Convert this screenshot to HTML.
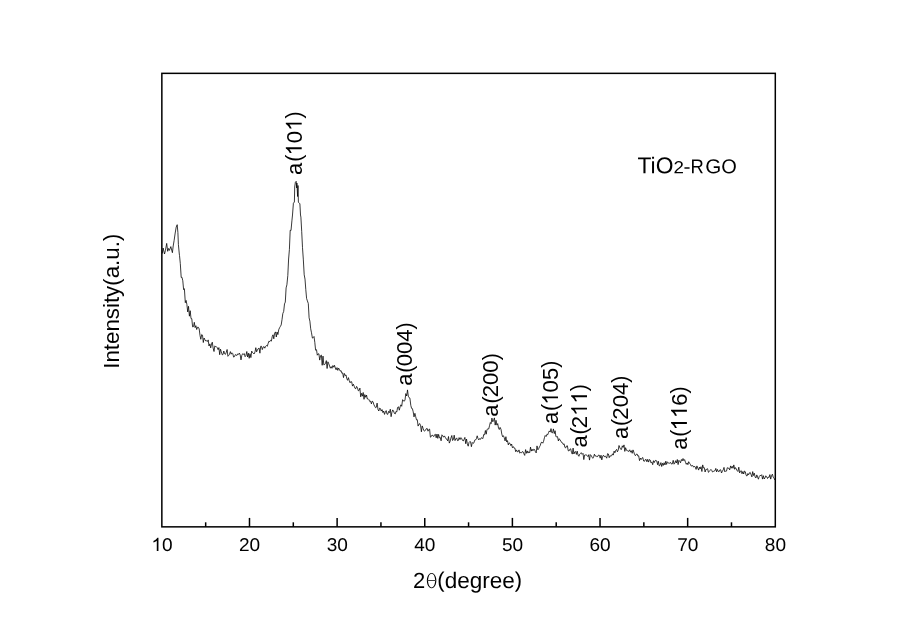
<!DOCTYPE html>
<html><head><meta charset="utf-8"><title>XRD</title>
<style>
html,body{margin:0;padding:0;background:#fff;}
body{width:900px;height:632px;overflow:hidden;font-family:"Liberation Sans",sans-serif;}
svg{display:block;will-change:transform}
text{font-family:"Liberation Sans",sans-serif;fill:#000}
</style></head><body>
<svg width="900" height="632" viewBox="0 0 900 632">
<rect width="900" height="632" fill="#fff"/>
<path d="M162.3 253.5 L163.1 248.0 L164.5 254.0 L165.4 250.6 L166.7 243.4 L167.7 251.3 L168.5 248.5 L169.4 250.4 L170.8 246.6 L172.4 252.7 L173.2 246.0 L174.1 240.6 L175.2 233.0 L176.2 227.1 L177.2 224.7 L177.9 232.5 L178.4 244.6 L179.3 254.0 L179.5 255.4 L180.3 263.5 L181.2 277.4 L182.0 277.3 L182.8 280.8 L183.6 289.6 L184.4 288.7 L185.3 302.7 L186.1 300.4 L186.9 304.5 L187.7 311.9 L188.5 306.3 L189.4 316.2 L190.2 310.7 L191.0 318.6 L191.8 318.7 L192.6 326.9 L193.5 326.6 L194.3 322.3 L195.1 327.6 L195.9 325.7 L196.7 329.5 L197.6 327.2 L198.4 327.3 L199.2 329.0 L200.0 335.4 L200.8 339.3 L201.7 334.5 L202.5 335.2 L203.3 342.5 L204.1 338.0 L204.9 339.7 L205.8 341.0 L206.6 340.8 L207.4 341.5 L208.2 339.9 L209.0 346.0 L209.9 343.9 L210.7 347.9 L211.5 344.0 L212.3 342.2 L213.1 348.0 L214.0 351.5 L214.8 345.9 L215.6 346.6 L216.4 346.7 L217.2 347.6 L218.1 349.7 L218.9 347.6 L219.7 354.7 L220.5 349.2 L221.3 351.7 L222.2 354.8 L223.0 354.5 L223.8 351.0 L224.6 353.7 L225.4 354.4 L226.3 352.3 L227.1 349.5 L227.9 356.3 L228.7 355.4 L229.5 354.3 L230.4 351.6 L231.2 354.2 L232.0 352.8 L232.8 353.7 L233.6 357.1 L234.5 356.6 L235.3 354.6 L236.1 355.0 L236.9 355.5 L237.7 353.9 L238.6 354.3 L239.4 353.1 L240.2 355.0 L241.0 359.9 L241.8 355.4 L242.7 353.7 L243.5 354.3 L244.3 353.6 L245.1 356.7 L245.9 355.7 L246.8 351.5 L247.6 357.0 L248.4 353.2 L249.2 358.3 L250.0 353.7 L250.9 357.6 L251.7 351.1 L252.5 352.5 L253.3 353.2 L254.1 354.0 L255.0 351.9 L255.8 347.7 L256.6 351.8 L257.4 350.0 L258.2 348.7 L259.1 348.0 L259.9 353.2 L260.7 346.3 L261.5 346.3 L262.3 349.6 L263.2 347.1 L264.0 346.5 L264.8 348.2 L265.6 346.3 L266.4 345.5 L267.3 346.3 L268.1 343.6 L268.9 341.2 L269.7 341.7 L270.5 340.3 L271.4 341.1 L272.2 336.6 L273.0 334.8 L273.8 338.8 L274.6 333.2 L275.5 331.9 L276.3 337.0 L277.1 332.0 L277.9 334.6 L278.7 329.8 L279.6 327.7 L280.4 326.4 L281.2 324.9 L282.0 319.7 L282.8 313.6 L283.7 311.4 L284.5 303.9 L285.3 302.1 L286.1 287.9 L286.9 284.8 L287.8 275.6 L288.6 259.0 L289.4 249.6 L290.2 230.3 L291.0 230.5 L291.9 220.9 L292.5 215.0 L293.4 203.2 L294.4 202.0 L294.7 187.0 L295.4 182.2 L296.2 181.3 L296.7 188.0 L296.9 183.0 L297.6 196.5 L298.0 185.5 L298.4 202.2 L299.9 203.8 L300.5 215.0 L300.9 217.1 L301.7 231.3 L302.5 247.7 L303.3 259.1 L304.2 274.8 L305.0 279.1 L305.8 289.7 L306.6 298.5 L307.4 300.9 L308.3 303.5 L309.1 317.8 L309.9 321.2 L310.7 328.8 L311.5 332.8 L312.4 338.1 L313.2 337.6 L314.0 336.5 L314.8 342.3 L315.6 350.2 L316.5 349.7 L317.3 355.2 L318.1 353.9 L318.9 353.8 L319.7 360.1 L320.6 355.6 L321.4 355.1 L322.2 365.3 L323.0 356.1 L323.8 364.8 L324.7 364.5 L325.5 363.3 L326.3 360.6 L327.1 368.5 L327.9 361.8 L328.8 363.8 L329.6 366.1 L330.4 368.2 L331.2 366.6 L332.0 368.3 L332.9 365.5 L333.7 367.2 L334.5 365.3 L335.3 368.0 L336.1 369.8 L337.0 367.6 L337.8 370.4 L338.6 368.1 L339.4 369.3 L340.2 371.1 L341.1 370.7 L341.9 373.3 L342.7 372.9 L343.5 377.6 L344.3 373.4 L345.2 375.6 L346.0 374.9 L346.8 378.7 L347.6 380.3 L348.4 377.6 L349.3 380.8 L350.1 382.8 L350.9 381.4 L351.7 381.9 L352.5 386.1 L353.4 384.2 L354.2 386.2 L355.0 388.4 L355.8 388.7 L356.6 386.4 L357.5 388.0 L358.3 390.8 L359.1 390.4 L359.9 388.1 L360.7 396.8 L361.6 393.3 L362.4 396.2 L363.2 392.5 L364.0 399.3 L364.8 394.6 L365.7 397.3 L366.5 395.0 L367.3 399.0 L368.1 398.8 L368.9 399.6 L369.8 401.6 L370.6 401.1 L371.4 403.9 L372.2 401.2 L373.0 401.7 L373.9 404.7 L374.7 406.2 L375.5 407.7 L376.3 407.3 L377.1 403.1 L378.0 409.5 L378.8 411.0 L379.6 408.2 L380.4 408.5 L381.2 411.1 L382.1 409.6 L382.9 412.6 L383.7 411.0 L384.5 414.4 L385.3 412.2 L386.2 410.6 L387.0 414.2 L387.8 414.3 L388.6 411.4 L389.4 412.7 L390.3 409.2 L391.1 416.7 L391.9 412.2 L392.7 409.9 L393.5 411.0 L394.4 413.4 L395.2 414.0 L396.0 411.4 L396.8 411.9 L397.6 407.4 L398.5 406.8 L399.3 410.2 L400.1 406.9 L400.9 404.8 L401.7 406.3 L402.6 399.7 L403.4 400.7 L404.2 401.3 L405.0 400.0 L405.8 393.6 L406.7 396.0 L407.5 389.9 L408.3 396.2 L409.1 397.7 L409.9 398.1 L410.8 405.4 L411.6 408.4 L412.4 408.6 L413.2 411.8 L414.0 416.9 L414.9 413.3 L415.7 416.7 L416.5 419.9 L417.3 419.7 L418.1 426.1 L419.0 424.1 L419.8 423.6 L420.6 425.8 L421.4 431.8 L422.2 425.9 L423.1 428.4 L423.9 430.7 L424.7 431.0 L425.5 430.3 L426.3 428.7 L427.2 428.5 L428.0 431.2 L428.8 429.5 L429.6 429.1 L430.4 437.2 L431.3 436.5 L432.1 435.0 L432.9 435.6 L433.7 436.6 L434.5 434.8 L435.4 434.3 L436.2 437.8 L437.0 434.0 L437.8 438.4 L438.6 434.4 L439.5 437.9 L440.3 437.4 L441.1 440.8 L441.9 434.8 L442.7 435.7 L443.6 437.2 L444.4 435.9 L445.2 437.2 L446.0 438.8 L446.8 439.2 L447.7 440.9 L448.5 436.5 L449.3 443.1 L450.1 441.4 L450.9 438.1 L451.8 435.5 L452.6 440.5 L453.4 439.5 L454.2 435.2 L455.0 440.6 L455.9 438.8 L456.7 437.9 L457.5 440.6 L458.3 440.5 L459.1 437.6 L460.0 439.6 L460.8 437.6 L461.6 438.3 L462.4 440.3 L463.2 441.0 L464.1 439.3 L464.9 437.4 L465.7 443.7 L466.5 439.0 L467.3 443.7 L468.2 446.2 L469.0 442.5 L469.8 441.5 L470.6 441.8 L471.4 446.7 L472.3 442.5 L473.1 443.3 L473.9 442.9 L474.7 440.2 L475.5 440.0 L476.4 438.7 L477.2 435.8 L478.0 438.5 L478.8 439.9 L479.6 438.6 L480.5 439.3 L481.3 437.7 L482.1 438.1 L482.9 438.6 L483.7 434.5 L484.6 434.8 L485.4 430.5 L486.2 434.2 L487.0 429.4 L487.8 429.0 L488.7 429.0 L489.5 425.8 L490.3 422.5 L491.1 423.7 L491.9 418.1 L492.8 421.8 L493.6 420.4 L494.4 417.9 L495.2 425.1 L496.0 420.3 L496.9 425.1 L497.7 423.6 L498.5 428.1 L499.3 429.5 L500.1 427.4 L501.0 429.3 L501.8 434.1 L502.6 436.7 L503.4 435.7 L504.2 437.6 L505.1 440.9 L505.9 436.7 L506.7 442.0 L507.5 440.6 L508.3 444.9 L509.2 442.9 L510.0 443.4 L510.8 445.6 L511.6 444.0 L512.4 447.7 L513.3 446.6 L514.1 448.1 L514.9 448.1 L515.7 451.7 L516.5 449.9 L517.4 451.8 L518.2 451.7 L519.0 449.9 L519.8 453.2 L520.6 452.4 L521.5 452.8 L522.3 451.6 L523.1 451.8 L523.9 453.8 L524.7 455.4 L525.6 449.6 L526.4 453.3 L527.2 450.9 L528.0 453.1 L528.8 451.7 L529.7 452.7 L530.5 447.1 L531.3 451.1 L532.1 449.2 L532.9 450.8 L533.8 449.2 L534.6 449.6 L535.4 451.7 L536.2 452.9 L537.0 445.9 L537.9 449.8 L538.7 448.6 L539.5 446.8 L540.3 445.4 L541.1 442.6 L542.0 442.1 L542.8 443.2 L543.6 441.3 L544.4 437.8 L545.2 435.5 L546.1 436.5 L546.9 434.3 L547.7 434.8 L548.5 432.6 L549.3 430.9 L550.2 432.1 L551.0 428.6 L551.8 432.7 L552.6 432.8 L553.4 428.9 L554.3 433.6 L555.1 430.7 L555.9 436.6 L556.7 436.8 L557.5 436.6 L558.4 441.0 L559.2 438.7 L560.0 439.9 L560.8 441.0 L561.6 442.5 L562.5 442.8 L563.3 444.5 L564.1 443.8 L564.9 447.4 L565.7 447.9 L566.6 445.9 L567.4 445.8 L568.2 450.7 L569.0 451.0 L569.8 449.3 L570.7 448.8 L571.5 452.5 L572.3 454.1 L573.1 448.1 L573.9 454.0 L574.8 451.8 L575.6 451.6 L576.4 454.4 L577.2 451.1 L578.0 455.0 L578.9 456.3 L579.7 454.2 L580.5 453.4 L581.3 452.7 L582.1 454.3 L583.0 453.4 L583.8 459.6 L584.6 455.1 L585.4 454.9 L586.2 454.9 L587.1 455.5 L587.9 456.6 L588.7 454.7 L589.5 460.1 L590.3 454.6 L591.2 455.5 L592.0 457.1 L592.8 458.3 L593.6 457.3 L594.4 454.2 L595.3 456.1 L596.1 455.8 L596.9 456.8 L597.7 456.5 L598.5 455.0 L599.4 455.3 L600.2 458.2 L601.0 455.2 L601.8 459.9 L602.6 456.4 L603.5 455.2 L604.3 456.8 L605.1 456.1 L605.9 456.7 L606.7 458.2 L607.6 453.6 L608.4 454.0 L609.2 457.7 L610.0 455.7 L610.8 456.1 L611.7 455.7 L612.5 453.8 L613.3 455.1 L614.1 451.1 L614.9 452.8 L615.8 450.2 L616.6 449.4 L617.4 451.8 L618.2 450.2 L619.0 445.5 L619.9 447.8 L620.7 449.3 L621.5 449.4 L622.3 445.8 L623.1 447.4 L624.0 444.9 L624.8 451.4 L625.6 447.7 L626.4 450.2 L627.2 450.3 L628.1 451.5 L628.9 451.1 L629.7 449.8 L630.5 452.2 L631.3 450.7 L632.2 453.3 L633.0 449.9 L633.8 452.0 L634.6 454.6 L635.4 455.7 L636.3 454.2 L637.1 454.0 L637.9 456.1 L638.7 455.8 L639.5 460.6 L640.4 458.1 L641.2 459.5 L642.0 458.1 L642.8 457.5 L643.6 461.0 L644.5 461.3 L645.3 459.6 L646.1 459.4 L646.9 461.8 L647.7 459.3 L648.6 462.1 L649.4 459.5 L650.2 460.0 L651.0 462.8 L651.8 461.9 L652.7 464.7 L653.5 460.7 L654.3 462.5 L655.1 460.7 L655.9 460.3 L656.8 461.0 L657.6 464.7 L658.4 461.3 L659.2 465.9 L660.0 465.4 L660.9 462.6 L661.7 466.5 L662.5 463.3 L663.3 465.4 L664.1 462.7 L665.0 465.0 L665.8 461.2 L666.6 464.4 L667.4 461.8 L668.2 462.6 L669.1 463.6 L669.9 462.6 L670.7 462.6 L671.5 464.1 L672.3 463.9 L673.2 460.3 L674.0 464.2 L674.8 463.2 L675.6 460.7 L676.4 463.0 L677.3 459.5 L678.1 464.6 L678.9 460.3 L679.7 461.2 L680.5 462.8 L681.4 459.5 L682.2 460.9 L683.0 458.5 L683.8 460.6 L684.6 459.6 L685.5 462.4 L686.3 464.3 L687.1 462.9 L687.9 464.7 L688.7 461.7 L689.6 463.3 L690.4 464.3 L691.2 466.1 L692.0 465.7 L692.8 465.6 L693.7 467.2 L694.5 466.2 L695.3 467.1 L696.1 469.4 L696.9 465.9 L697.8 468.1 L698.6 470.1 L699.4 467.2 L700.2 468.9 L701.0 466.7 L701.9 471.5 L702.7 464.9 L703.5 467.9 L704.3 467.7 L705.1 472.0 L706.0 469.2 L706.8 469.4 L707.6 468.7 L708.4 472.3 L709.2 471.6 L710.1 470.4 L710.9 469.4 L711.7 470.3 L712.5 472.0 L713.3 471.5 L714.2 471.0 L715.0 470.7 L715.8 468.4 L716.6 471.9 L717.4 469.4 L718.3 471.5 L719.1 471.7 L719.9 469.8 L720.7 469.8 L721.5 473.0 L722.4 471.1 L723.2 469.9 L724.0 467.4 L724.8 471.8 L725.6 471.0 L726.5 471.1 L727.3 467.7 L728.1 468.2 L728.9 468.2 L729.7 469.9 L730.6 465.9 L731.4 468.2 L732.2 466.3 L733.0 468.3 L733.8 464.9 L734.7 469.3 L735.5 467.6 L736.3 469.0 L737.1 470.6 L737.9 471.5 L738.8 467.2 L739.6 472.9 L740.4 471.3 L741.2 470.6 L742.0 473.8 L742.9 471.5 L743.7 474.0 L744.5 471.0 L745.3 471.7 L746.1 475.3 L747.0 476.1 L747.8 473.6 L748.6 474.8 L749.4 472.9 L750.2 472.4 L751.1 474.7 L751.9 476.9 L752.7 471.6 L753.5 475.5 L754.3 473.2 L755.2 477.3 L756.0 477.9 L756.8 474.9 L757.6 477.0 L758.4 479.2 L759.3 476.4 L760.1 475.3 L760.9 475.7 L761.7 474.7 L762.5 479.1 L763.4 475.7 L764.2 479.0 L765.0 477.9 L765.8 475.8 L766.6 476.6 L767.5 478.5 L768.3 477.0 L769.1 477.4 L769.9 474.6 L770.7 479.1 L771.6 475.4 L772.4 474.2 L773.2 477.2 L774.0 478.0 L774.8 480.0" fill="none" stroke="#000" stroke-width="0.78" stroke-linejoin="miter" stroke-miterlimit="3"/>
<rect x="161.85" y="73.35" width="613.4499999999999" height="453.5" fill="none" stroke="#000" stroke-width="1.5"/>
<g stroke="#000" stroke-width="1.5">
<line x1="205.67" y1="526.85" x2="205.67" y2="522.3"/><line x1="249.49" y1="526.85" x2="249.49" y2="517.9"/><line x1="293.30" y1="526.85" x2="293.30" y2="522.3"/><line x1="337.12" y1="526.85" x2="337.12" y2="517.9"/><line x1="380.94" y1="526.85" x2="380.94" y2="522.3"/><line x1="424.76" y1="526.85" x2="424.76" y2="517.9"/><line x1="468.57" y1="526.85" x2="468.57" y2="522.3"/><line x1="512.39" y1="526.85" x2="512.39" y2="517.9"/><line x1="556.21" y1="526.85" x2="556.21" y2="522.3"/><line x1="600.03" y1="526.85" x2="600.03" y2="517.9"/><line x1="643.85" y1="526.85" x2="643.85" y2="522.3"/><line x1="687.66" y1="526.85" x2="687.66" y2="517.9"/><line x1="731.48" y1="526.85" x2="731.48" y2="522.3"/>
</g>
<g transform="translate(151.36,551.00) rotate(0.03) scale(1.03,1)" font-size="18.5"><path transform="translate(0.00,0) scale(0.00903,-0.00903)" d="M763 0H583V1147Q518 1085 412.5 1023Q307 961 223 930V1104Q374 1175 487 1276Q600 1377 647 1472H763Z"/><text><tspan x="10.29" y="0">0</tspan></text></g><g transform="translate(238.99,551.00) rotate(0.03) scale(1.03,1)" font-size="18.5"><text><tspan x="0.00" y="0">20</tspan></text></g><g transform="translate(326.63,551.00) rotate(0.03) scale(1.03,1)" font-size="18.5"><text><tspan x="0.00" y="0">30</tspan></text></g><g transform="translate(414.26,551.00) rotate(0.03) scale(1.03,1)" font-size="18.5"><text><tspan x="0.00" y="0">40</tspan></text></g><g transform="translate(501.90,551.00) rotate(0.03) scale(1.03,1)" font-size="18.5"><text><tspan x="0.00" y="0">50</tspan></text></g><g transform="translate(589.53,551.00) rotate(0.03) scale(1.03,1)" font-size="18.5"><text><tspan x="0.00" y="0">60</tspan></text></g><g transform="translate(677.17,551.00) rotate(0.03) scale(1.03,1)" font-size="18.5"><text><tspan x="0.00" y="0">70</tspan></text></g><g transform="translate(764.81,551.00) rotate(0.03) scale(1.03,1)" font-size="18.5"><text><tspan x="0.00" y="0">80</tspan></text></g>
<g transform="translate(301.70,175.10) rotate(-90)" font-size="22.1"><path transform="translate(19.65,0) scale(0.01079,-0.01079)" d="M763 0H583V1147Q518 1085 412.5 1023Q307 961 223 930V1104Q374 1175 487 1276Q600 1377 647 1472H763Z"/><path transform="translate(44.22,0) scale(0.01079,-0.01079)" d="M763 0H583V1147Q518 1085 412.5 1023Q307 961 223 930V1104Q374 1175 487 1276Q600 1377 647 1472H763Z"/><text><tspan x="0.22" y="0.00" font-size="22.10">a</tspan><tspan x="13.39" y="-0.77" font-size="21.44">(</tspan><tspan x="31.93" y="0">0</tspan><tspan x="56.62" y="-0.77" font-size="21.44">)</tspan></text></g><g transform="translate(412.30,386.00) rotate(-90)" font-size="22.1"><text><tspan x="0.22" y="0.00" font-size="22.10">a</tspan><tspan x="13.39" y="-0.77" font-size="21.44">(</tspan><tspan x="19.65" y="0">004</tspan><tspan x="56.62" y="-0.77" font-size="21.44">)</tspan></text></g><g transform="translate(498.30,416.90) rotate(-90)" font-size="22.1"><text><tspan x="0.22" y="0.00" font-size="22.10">a</tspan><tspan x="13.39" y="-0.77" font-size="21.44">(</tspan><tspan x="19.65" y="0">200</tspan><tspan x="56.62" y="-0.77" font-size="21.44">)</tspan></text></g><g transform="translate(558.00,424.30) rotate(-90)" font-size="22.1"><path transform="translate(19.65,0) scale(0.01079,-0.01079)" d="M763 0H583V1147Q518 1085 412.5 1023Q307 961 223 930V1104Q374 1175 487 1276Q600 1377 647 1472H763Z"/><text><tspan x="0.22" y="0.00" font-size="22.10">a</tspan><tspan x="13.39" y="-0.77" font-size="21.44">(</tspan><tspan x="31.93" y="0">05</tspan><tspan x="56.62" y="-0.77" font-size="21.44">)</tspan></text></g><g transform="translate(587.00,447.80) rotate(-90)" font-size="22.1"><path transform="translate(31.93,0) scale(0.01079,-0.01079)" d="M763 0H583V1147Q518 1085 412.5 1023Q307 961 223 930V1104Q374 1175 487 1276Q600 1377 647 1472H763Z"/><path transform="translate(44.22,0) scale(0.01079,-0.01079)" d="M763 0H583V1147Q518 1085 412.5 1023Q307 961 223 930V1104Q374 1175 487 1276Q600 1377 647 1472H763Z"/><text><tspan x="0.22" y="0.00" font-size="22.10">a</tspan><tspan x="13.39" y="-0.77" font-size="21.44">(</tspan><tspan x="19.65" y="0">2</tspan><tspan x="56.62" y="-0.77" font-size="21.44">)</tspan></text></g><g transform="translate(628.10,439.30) rotate(-90)" font-size="22.1"><text><tspan x="0.22" y="0.00" font-size="22.10">a</tspan><tspan x="13.39" y="-0.77" font-size="21.44">(</tspan><tspan x="19.65" y="0">204</tspan><tspan x="56.62" y="-0.77" font-size="21.44">)</tspan></text></g><g transform="translate(686.90,450.00) rotate(-90)" font-size="22.1"><path transform="translate(19.65,0) scale(0.01079,-0.01079)" d="M763 0H583V1147Q518 1085 412.5 1023Q307 961 223 930V1104Q374 1175 487 1276Q600 1377 647 1472H763Z"/><path transform="translate(31.93,0) scale(0.01079,-0.01079)" d="M763 0H583V1147Q518 1085 412.5 1023Q307 961 223 930V1104Q374 1175 487 1276Q600 1377 647 1472H763Z"/><text><tspan x="0.22" y="0.00" font-size="22.10">a</tspan><tspan x="13.39" y="-0.77" font-size="21.44">(</tspan><tspan x="44.22" y="0">6</tspan><tspan x="56.62" y="-0.77" font-size="21.44">)</tspan></text></g>
<g transform="translate(119.30,368.80) rotate(-90)" font-size="22.3"><text><tspan x="0.00" y="0">Intensity</tspan><tspan x="83.16" y="-0.78" font-size="21.63">(</tspan><tspan x="90.47" y="0">a.u.</tspan><tspan x="127.78" y="-0.78" font-size="21.63">)</tspan></text></g>
<g transform="translate(413.10,588.00) rotate(0.03)" font-size="22"><text><tspan x="0.00" y="0">2</tspan></text></g><path fill-rule="evenodd" d="M431.6 573.0a4.75 7.6 0 1 0 0.001 0zM431.6 573.7a3.55 6.9 0 1 1 -0.001 0zM427.8 579.9h7.6v0.8h-7.6z"/><g transform="translate(437.20,588.00) rotate(0.03)" font-size="22.5"><text><tspan x="0.11" y="-0.79" font-size="21.82">(</tspan><tspan x="7.49" y="0">degree</tspan><tspan x="77.65" y="-0.79" font-size="21.82">)</tspan></text></g>
<g transform="translate(637.50,173.30) rotate(0.03)" font-size="22.8"><text><tspan x="0.00" y="0">TiO</tspan></text></g><g transform="translate(673.50,173.30) rotate(0.03) scale(1.07,1)" font-size="17.5"><text><tspan x="0.00" y="0">2</tspan></text></g><g transform="translate(683.50,173.30) rotate(0.03) scale(1.05,1)" font-size="20"><text><tspan x="0.00" y="0">-</tspan></text></g><g transform="translate(690.40,173.30) rotate(0.03) scale(0.92,1)" font-size="20"><text><tspan x="0.00" y="0">R</tspan></text></g><g transform="translate(705.20,173.30) rotate(0.03) scale(1.03,1)" font-size="20"><text><tspan x="0.00" y="0">G</tspan></text></g><g transform="translate(721.30,173.30) rotate(0.03)" font-size="20"><text><tspan x="0.00" y="0">O</tspan></text></g>
</svg>
</body></html>
